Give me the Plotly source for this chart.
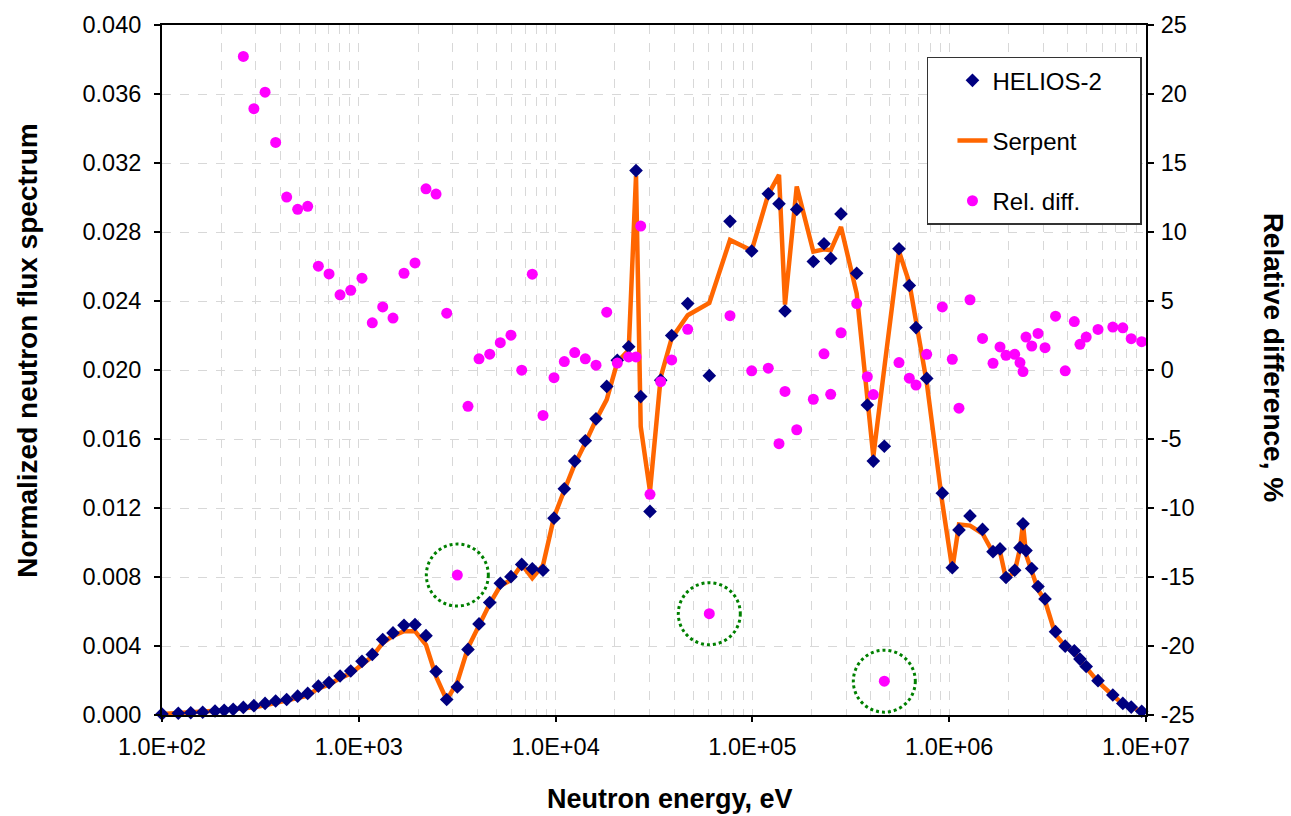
import plotly.graph_objects as go

# Neutron energy (eV) of each group point
energy = [100, 121, 140, 161, 186, 207, 230, 259, 293, 334, 378, 430, 489, 550, 623, 706, 803, 910,
          1038, 1171, 1323, 1492, 1697, 1930, 2195, 2469, 2797, 3167, 3588, 4082, 4627, 5236, 5934,
          6727, 7613, 8630, 9815, 11073, 12507, 14156, 16047, 18186, 20585, 23518, 25621, 27068,
          30177, 34198, 38895, 46924, 60395, 76947, 99178, 120450, 136520, 146440, 167990, 203960,
          231100, 249960, 281940, 338840, 383640, 411530, 468040, 555720, 627040, 678190, 768610,
          922570, 1037000, 1121400, 1275600, 1476600, 1669700, 1812300, 1943900, 2151800, 2289600,
          2371400, 2456000, 2626500, 2826700, 3068600, 3468800, 3885300, 4321900, 4618000, 4967600,
          5703800, 6782800, 7624100, 8410000, 9511000]

helios = [0.00006, 0.00010, 0.00013, 0.00016, 0.00023, 0.00027, 0.00033, 0.00044, 0.00054, 0.00067,
          0.00081, 0.00090, 0.00109, 0.00125, 0.00167, 0.00188, 0.00226, 0.00255, 0.00311, 0.00351,
          0.00437, 0.00476, 0.00520, 0.00524, 0.00460, 0.00252, 0.00090, 0.00163, 0.00380, 0.00528,
          0.00652, 0.00764, 0.00802, 0.00873, 0.00848, 0.00839, 0.01141, 0.01311, 0.01472, 0.01590,
          0.01717, 0.01905, 0.02056, 0.02135, 0.03156, 0.01846, 0.01180, 0.01941, 0.02200, 0.02385,
          0.01967, 0.02862, 0.02690, 0.03022, 0.02964, 0.02342, 0.02931, 0.02629, 0.02732, 0.02647,
          0.02905, 0.02561, 0.01797, 0.01472, 0.01558, 0.02703, 0.02490, 0.02246, 0.01951, 0.01286,
          0.00854, 0.01073, 0.01154, 0.01076, 0.00947, 0.00963, 0.00797, 0.00839, 0.00970, 0.01108,
          0.00953, 0.00849, 0.00745, 0.00673, 0.00483, 0.00399, 0.00372, 0.00324, 0.00281, 0.00199,
          0.00116, 0.00067, 0.00046, 0.00022]

serpent = [0.00006, 0.00010, 0.00013, 0.00016, 0.00023, 0.00027, 0.00033, 0.00036, 0.00045, 0.00056,
           0.00070, 0.00080, 0.00098, 0.00112, 0.00155, 0.00176, 0.00214, 0.00241, 0.00292, 0.00339,
           0.00418, 0.00459, 0.00486, 0.00486, 0.00407, 0.00224, 0.00086, 0.00191, 0.00390, 0.00524,
           0.00645, 0.00749, 0.00782, 0.00873, 0.00793, 0.00868, 0.01147, 0.01303, 0.01454, 0.01577,
           0.01711, 0.01828, 0.02046, 0.02115, 0.03126, 0.01672, 0.01297, 0.01958, 0.02184, 0.02317,
           0.02389, 0.02754, 0.02692, 0.03018, 0.03131, 0.02379, 0.03064, 0.02686, 0.02700, 0.02694,
           0.02829, 0.02443, 0.01806, 0.01499, 0.02012, 0.02688, 0.02505, 0.02271, 0.01929, 0.01230,
           0.00847, 0.01104, 0.01098, 0.01052, 0.00942, 0.00947, 0.00789, 0.00830, 0.00965, 0.01109,
           0.00931, 0.00834, 0.00726, 0.00662, 0.00465, 0.00399, 0.00359, 0.00318, 0.00274, 0.00193,
           0.00113, 0.00065, 0.00045, 0.00022]

rel_diff = [None, None, None, None, None, None, None,
            22.72, 18.94, 20.13, 16.49, 12.53, 11.64, 11.86, 7.52, 6.96, 5.45,
            5.77, 6.65, 3.42, 4.57, 3.76, 7.01, 7.76, 13.13, 12.75, 4.12,
            -14.86, -2.63, 0.81, 1.15, 1.98, 2.52, -0.01, 6.94, -3.29, -0.56,
            0.61, 1.26, 0.81, 0.35, 4.19, 0.50, 0.95, 0.95, 10.43, -9.01,
            -0.85, 0.73, 2.95, -17.66, 3.94, -0.06, 0.13, -5.34, -1.55, -4.33,
            -2.12, 1.17, -1.76, 2.70, 4.81, -0.49, -1.78, -22.55, 0.54, -0.59,
            -1.09, 1.14, 4.57, 0.78, -2.77, 5.09, 2.29, 0.49, 1.67, 1.06,
            1.14, 0.54, -0.11, 2.39, 1.74, 2.65, 1.62, 3.90, -0.06, 3.51,
            1.86, 2.39, 2.94, 3.11, 3.06, 2.27, 2.05]

x_tick_vals = [1e2, 1e3, 1e4, 1e5, 1e6, 1e7]
x_tick_text = ["1.0E+02", "1.0E+03", "1.0E+04", "1.0E+05", "1.0E+06", "1.0E+07"]
y_tick_vals = [0.000, 0.004, 0.008, 0.012, 0.016, 0.020, 0.024, 0.028, 0.032, 0.036, 0.040]
y_tick_text = ["0.000", "0.004", "0.008", "0.012", "0.016", "0.020", "0.024", "0.028", "0.032", "0.036", "0.040"]
y2_tick_vals = [-25, -20, -15, -10, -5, 0, 5, 10, 15, 20, 25]
y2_tick_text = ["-25", "-20", "-15", "-10", "-5", "0", "5", "10", "15", "20", "25"]

grid_vals = [k * 10 ** n for n in range(2, 7) for k in range(1, 10)] + [1e7]

FONT = "Liberation Sans, Arial, sans-serif"
NBSP = "\u00a0"

fig = go.Figure()
fig.add_trace(go.Scatter(x=energy, y=serpent, mode="lines", name="Serpent",
                         line=dict(color="#FF6600", width=4.5), legendgroup="s", legendrank=2,
                         xaxis="x", yaxis="y"))
fig.add_trace(go.Scatter(x=energy, y=helios, mode="markers", name="HELIOS-2" + NBSP * 5,
                         marker=dict(symbol="diamond", size=10.5, color="#000080"),
                         legendgroup="h", legendrank=1, xaxis="x", yaxis="y", cliponaxis=False))
fig.add_trace(go.Scatter(x=energy, y=rel_diff, mode="markers", name="Rel. diff.",
                         marker=dict(symbol="circle", size=11, color="#FF00FF"),
                         legendgroup="r", legendrank=3, xaxis="x2", yaxis="y2"))

# dotted green circles around the outlying relative differences
half_width = 10 ** (31 / 196.8)   # ~31 px on the log energy axis
shapes = []
for e, r in zip(energy, rel_diff):
    if r is not None and r < -10:
        shapes.append(dict(type="circle", xref="x2", yref="y2", xsizemode="scaled", ysizemode="pixel",
                           x0=e / half_width, x1=e * half_width, yanchor=r, y0=-31, y1=31,
                           line=dict(color="#008000", width=3, dash="dot")))

axis_line = dict(showline=True, linecolor="#000000", linewidth=2, zeroline=False)
tick_font = dict(family=FONT, size=23.5, color="#000000")

fig.update_layout(
    width=1291, height=816,
    margin=dict(l=162, r=145, t=20, b=101),
    paper_bgcolor="white", plot_bgcolor="white",
    font=dict(family=FONT, size=22, color="#000000"),
    xaxis=dict(type="log", range=[2, 7], tickvals=grid_vals, showticklabels=False, ticks="",
               showgrid=True, gridcolor="#d8d8d8", gridwidth=1, griddash="dash",
               mirror=True, **axis_line),
    xaxis2=dict(type="log", range=[2, 7], overlaying="x", anchor="y2", side="bottom",
                tickvals=x_tick_vals, ticktext=x_tick_text, ticks="outside", ticklen=6,
                tickwidth=1.5, tickcolor="#000000", showgrid=False, showline=False, zeroline=False,
                tickfont=tick_font, ticklabelstandoff=5),
    yaxis=dict(range=[0, 0.04], tickvals=y_tick_vals, ticktext=y_tick_text, ticks="outside",
               ticklen=6, tickwidth=1.5, tickcolor="#000000", showgrid=True, gridcolor="#d8d8d8",
               gridwidth=1, griddash="dash", tickfont=tick_font, ticklabelstandoff=8, **axis_line),
    yaxis2=dict(range=[-25, 25], overlaying="y", anchor="x2", side="right", tickvals=y2_tick_vals,
                ticktext=y2_tick_text, ticks="outside", ticklen=6, tickwidth=1.5,
                tickcolor="#000000", showgrid=False, tickfont=tick_font, ticklabelstandoff=2,
                **axis_line),
    legend=dict(x=0.7774, y=0.954, xanchor="left", yanchor="top", bgcolor="white",
                bordercolor="#333333", borderwidth=1.5, font=dict(family=FONT, size=24),
                tracegroupgap=26, indentation=24),
    shapes=shapes,
    annotations=[
        dict(text="<b>Normalized neutron flux spectrum</b>", xref="paper", yref="paper",
             x=-0.1362, y=0.528, xanchor="center", yanchor="middle", textangle=-90,
             showarrow=False, font=dict(family=FONT, size=28)),
        dict(text="<b>Neutron energy, eV</b>", xref="paper", yref="paper",
             x=0.516, y=-0.1223, xanchor="center", yanchor="middle", showarrow=False,
             font=dict(family=FONT, size=27)),
        dict(text="<b>Relative difference, %</b>", xref="paper", yref="paper",
             x=1.129, y=0.518, xanchor="center", yanchor="middle", textangle=90,
             showarrow=False, font=dict(family=FONT, size=28)),
    ],
)

fig.write_html("out.html")
